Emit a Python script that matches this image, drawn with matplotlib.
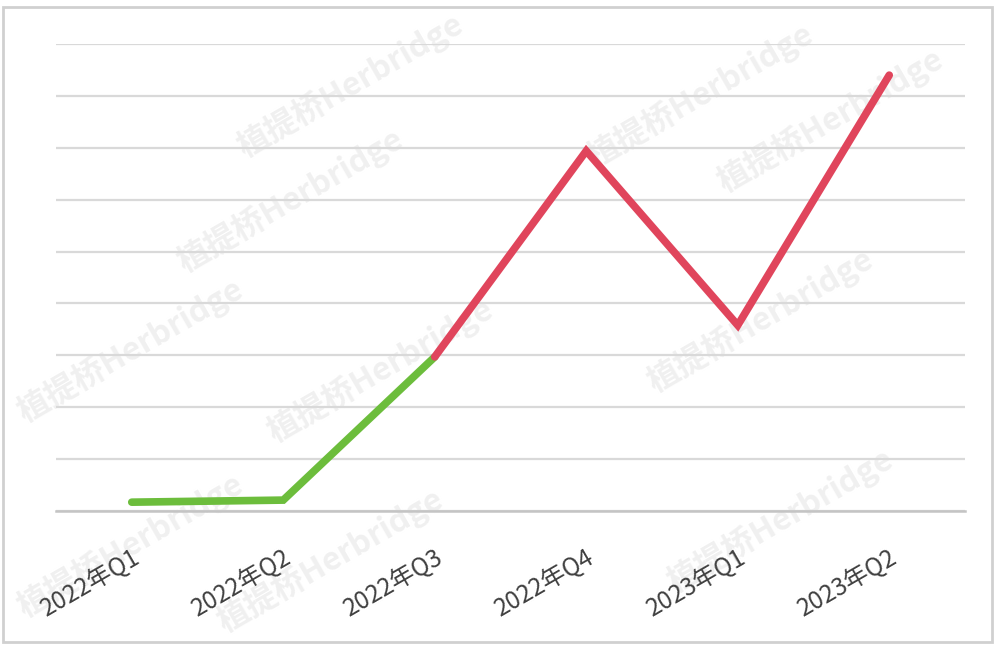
import matplotlib.pyplot as plt
from matplotlib.patches import Rectangle

plt.rcParams['font.family'] = ['Noto Sans CJK SC', 'DejaVu Sans']

# quarterly values, in gridline units (no y labels in the source)
quarters = ['2022年Q1', '2022年Q2', '2022年Q3', '2022年Q4', '2023年Q1', '2023年Q2']
values = [0.17, 0.21, 2.97, 6.94, 3.58, 8.40]
split_idx = 2  # green up to 2022Q3, red afterwards

green = '#6cbd3c'
red = '#e0455c'

fig = plt.figure(figsize=(10, 6.49), dpi=100)
ax = fig.add_axes([0.056, 1 - 511 / 649, 0.909, (511 - 44) / 649])
ax.patch.set_alpha(0)

x = list(range(len(quarters)))
ax.plot(x[:split_idx + 1], values[:split_idx + 1], color=green, lw=5.5,
        solid_capstyle='round', solid_joinstyle='miter', zorder=3)
ax.plot(x[split_idx:], values[split_idx:], color=red, lw=5.5,
        solid_capstyle='round', solid_joinstyle='miter', zorder=3)

ax.set_xlim(-0.5, len(quarters) - 0.5)
ax.set_ylim(0, 9)
ax.set_yticks(range(0, 10))
ax.set_yticklabels([])
ax.tick_params(axis='y', length=0)
ax.grid(axis='y', color='#d9d9d9', lw=1.6)
ax.set_axisbelow(True)
for s in ['left', 'right', 'top']:
    ax.spines[s].set_visible(False)
ax.spines['bottom'].set_color('#c4c4c4')
ax.spines['bottom'].set_linewidth(1.8)

ax.set_xticks(x)
ax.set_xticklabels(quarters, rotation=30, ha='right', rotation_mode='anchor',
                   fontsize=17.5, color='#404040')
ax.tick_params(axis='x', length=0, pad=24)

# faint watermark behind the gridlines
marks = [(290, 200), (380, 370), (760, 320), (830, 120), (780, 520),
         (330, 560), (350, 85), (700, 95), (130, 350), (130, 545)]
for mx, my in marks:
    ax.text(mx / 1000, 1 - my / 649, '植提桥Herbridge', rotation=30,
            transform=fig.transFigure, ha='center', va='center',
            fontsize=23, fontweight='bold', color='#f0f0f0',
            zorder=0.1, clip_on=False)

fig.patches.append(Rectangle((3 / 1000, 1 - 642 / 649), 989 / 1000, 635 / 649,
                             transform=fig.transFigure, fill=False,
                             edgecolor='#d0d0d0', lw=2))

fig.savefig('out.png', dpi=100)
